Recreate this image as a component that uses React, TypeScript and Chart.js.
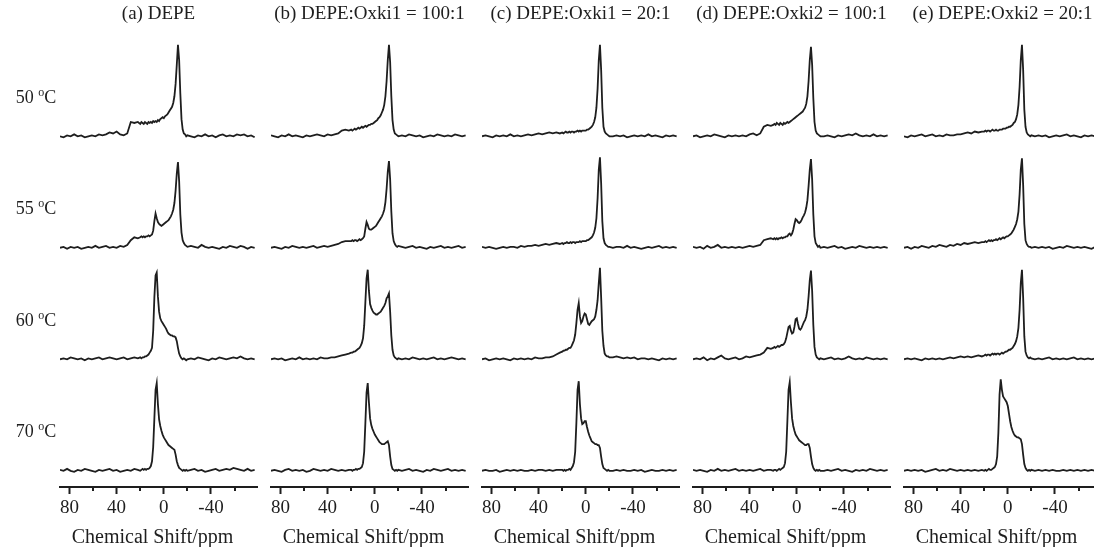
import { useEffect, useRef } from "react";
import { Chart, registerables } from "chart.js";

Chart.register(...registerables);

// Chemical shift grid (ppm) shared by every spectrum
const PPM = [
  88, 85, 82, 79, 76, 73, 70, 67, 64, 61, 58, 55, 52, 49, 46, 43, 40, 37, 34, 31, 28, 25, 22,
  20, 19, 18, 17, 16, 15, 14, 13, 12, 11,
  10, 9, 8, 7, 6, 5, 4, 3, 2, 1,
  0, -1, -2, -3, -4, -5, -6, -7, -8, -9,
  -10, -11, -12, -13, -14, -15, -16, -17, -18, -19, -20,
  -23, -26, -29, -32, -35, -38, -41, -44, -47, -50, -53, -56, -59, -62, -65, -68, -71, -74, -77,
];

const PANEL_TITLES = [
  "(a) DEPE",
  "(b) DEPE:Oxki1 = 100:1",
  "(c) DEPE:Oxki1 = 20:1",
  "(d) DEPE:Oxki2 = 100:1",
  "(e) DEPE:Oxki2 = 20:1",
];
const TEMPERATURES = ["50", "55", "60", "70"];
const AXIS_TITLE = "Chemical Shift/ppm";
const MAJOR_TICKS = [80, 40, 0, -40];
const MINOR_TICKS = [60, 20, -20, -60];

// (a) DEPE
const A50 = [
  0.00, -0.01, 0.01, 0.00, 0.02, 0.00, 0.01, -0.01, 0.00, 0.01, 0.00, 0.02, 0.01, 0.02, 0.04, 0.03, 0.05, 0.02, 0.01, 0.03, 0.15, 0.14, 0.15,
  0.13, 0.15, 0.14, 0.13, 0.15, 0.14, 0.13, 0.15, 0.14, 0.15,
  0.14, 0.16, 0.15, 0.16, 0.15, 0.17, 0.16, 0.18, 0.19, 0.20,
  0.19, 0.21, 0.22, 0.23, 0.25, 0.27, 0.29, 0.31, 0.35, 0.42,
  0.55, 0.75, 0.96, 0.80, 0.45, 0.18, 0.07, 0.03, 0.02, 0.00, 0.01,
  0.00, -0.01, 0.01, 0.00, 0.02, 0.00, 0.01, -0.01, 0.01, 0.02, 0.00, 0.01, 0.00, 0.02, 0.01, 0.02, 0.00, 0.01, -0.01,
];
const A55 = [
  0.00, 0.01, -0.01, 0.01, 0.00, 0.01, -0.01, 0.00, 0.01, 0.00, 0.02, 0.00, 0.01, 0.02, 0.00, 0.01, 0.00, 0.02, 0.01, 0.03, 0.08, 0.11, 0.10,
  0.11, 0.12, 0.11, 0.12, 0.11, 0.12, 0.12, 0.13, 0.12, 0.13,
  0.14, 0.18, 0.28, 0.36, 0.31, 0.27, 0.25, 0.24, 0.23, 0.24,
  0.25, 0.26, 0.27, 0.28, 0.29, 0.31, 0.33, 0.36, 0.40, 0.47,
  0.60, 0.78, 0.90, 0.70, 0.35, 0.16, 0.08, 0.05, 0.03, 0.02, 0.01,
  0.02, 0.01, 0.00, 0.03, 0.01, 0.00, 0.01, 0.00, -0.01, 0.01, 0.00, 0.02, 0.01, 0.00, 0.02, 0.01, -0.01, 0.01, 0.00,
];
const A60 = [
  0.00, 0.01, 0.00, 0.02, 0.01, 0.00, 0.01, -0.01, 0.01, 0.00, 0.01, 0.02, 0.00, 0.01, 0.02, 0.01, 0.00, 0.01, 0.02, 0.00, 0.01, 0.02, 0.01,
  0.02, 0.01, 0.02, 0.02, 0.03, 0.03, 0.04, 0.05, 0.07, 0.09,
  0.12, 0.30, 0.65, 0.88, 0.91, 0.66, 0.50, 0.43, 0.40, 0.38,
  0.36, 0.34, 0.32, 0.29, 0.27, 0.26, 0.25, 0.25, 0.24, 0.24,
  0.23, 0.19, 0.12, 0.06, 0.03, 0.01, 0.00, 0.01, 0.00, -0.01, 0.00,
  0.01, 0.00, 0.02, 0.01, 0.00, -0.01, 0.01, 0.00, 0.02, 0.01, 0.00, 0.01, 0.02, 0.01, 0.03, 0.01, 0.00, 0.01, 0.00,
];
const A70 = [
  0.01, 0.00, 0.02, 0.00, -0.01, 0.01, 0.00, 0.02, 0.01, 0.00, -0.01, 0.01, 0.00, 0.01, 0.02, 0.00, 0.01, -0.01, 0.00, 0.01, 0.00, 0.02, 0.01,
  0.00, 0.01, 0.02, 0.01, 0.02, 0.01, 0.02, 0.02, 0.03, 0.05,
  0.10, 0.25, 0.55, 0.85, 0.92, 0.70, 0.54, 0.47, 0.42, 0.38,
  0.35, 0.33, 0.31, 0.29, 0.27, 0.26, 0.25, 0.24, 0.23, 0.22,
  0.17, 0.10, 0.06, 0.03, 0.02, 0.01, 0.00, 0.01, 0.00, 0.01, 0.00,
  0.01, 0.02, 0.00, 0.01, -0.01, 0.00, 0.01, 0.02, 0.00, 0.01, 0.02, 0.01, 0.03, 0.02, 0.01, 0.00, 0.02, 0.00, 0.01,
];

// (b) DEPE:Oxki1 = 100:1
const B50 = [
  0.01, 0.00, -0.01, 0.01, 0.00, 0.02, 0.00, 0.01, 0.00, -0.01, 0.01, 0.00, 0.01, 0.02, 0.01, 0.00, 0.02, 0.01, 0.02, 0.03, 0.06, 0.07, 0.06,
  0.07, 0.06, 0.07, 0.08, 0.07, 0.08, 0.09, 0.08, 0.09, 0.10,
  0.09, 0.10, 0.11, 0.10, 0.11, 0.12, 0.12, 0.13, 0.13, 0.14,
  0.15, 0.16, 0.17, 0.19, 0.20, 0.22, 0.25, 0.28, 0.33, 0.42,
  0.58, 0.80, 0.96, 0.78, 0.42, 0.17, 0.07, 0.03, 0.02, 0.01, 0.00,
  0.01, 0.00, 0.02, 0.01, 0.00, 0.01, -0.01, 0.00, 0.01, 0.00, 0.02, 0.01, 0.00, 0.01, 0.00, 0.02, 0.01, 0.00, 0.01,
];
const B55 = [
  0.00, 0.01, 0.00, -0.01, 0.01, 0.00, 0.02, 0.01, 0.00, 0.01, 0.00, 0.01, 0.02, 0.00, 0.01, 0.02, 0.01, 0.02, 0.03, 0.04, 0.06, 0.07, 0.07,
  0.07, 0.08, 0.07, 0.08, 0.08, 0.07, 0.08, 0.09, 0.08, 0.09,
  0.10, 0.12, 0.20, 0.27, 0.24, 0.20, 0.19, 0.19, 0.20, 0.21,
  0.22, 0.23, 0.25, 0.27, 0.29, 0.31, 0.33, 0.36, 0.40, 0.48,
  0.62, 0.80, 0.91, 0.72, 0.38, 0.15, 0.07, 0.04, 0.02, 0.01, 0.02,
  0.01, 0.00, 0.01, 0.02, 0.00, 0.01, 0.00, -0.01, 0.01, 0.00, 0.01, 0.02, 0.00, 0.01, 0.00, 0.01, 0.02, 0.00, 0.01,
];
const B60 = [
  0.00, 0.01, 0.00, 0.01, -0.01, 0.00, 0.01, 0.00, 0.02, 0.00, 0.01, 0.00, 0.01, 0.00, 0.02, 0.01, 0.01, 0.02, 0.02, 0.03, 0.04, 0.05, 0.06,
  0.07, 0.07, 0.08, 0.08, 0.09, 0.10, 0.11, 0.12, 0.14, 0.17,
  0.22, 0.35, 0.60, 0.85, 0.94, 0.72, 0.58, 0.54, 0.51, 0.49,
  0.48, 0.47, 0.47, 0.48, 0.49, 0.50, 0.52, 0.54, 0.56, 0.59,
  0.64, 0.66, 0.69, 0.50, 0.25, 0.10, 0.04, 0.02, 0.01, 0.00, 0.01,
  0.00, 0.01, 0.00, 0.02, 0.01, 0.00, 0.01, 0.00, 0.01, 0.02, 0.00, 0.01, 0.00, 0.01, 0.02, 0.01, 0.00, 0.01, 0.00,
];
const B70 = [
  0.00, 0.01, 0.00, -0.01, 0.01, 0.02, 0.00, 0.01, 0.00, 0.01, -0.01, 0.00, 0.02, 0.01, 0.00, 0.01, 0.00, 0.02, 0.01, 0.00, 0.01, 0.00, 0.01,
  0.01, 0.00, 0.01, 0.01, 0.02, 0.01, 0.02, 0.02, 0.03, 0.04,
  0.08, 0.20, 0.50, 0.82, 0.92, 0.72, 0.55, 0.48, 0.44, 0.41,
  0.38, 0.36, 0.34, 0.32, 0.30, 0.29, 0.28, 0.28, 0.28, 0.29,
  0.30, 0.31, 0.27, 0.15, 0.06, 0.02, 0.01, 0.00, 0.01, 0.00, 0.01,
  0.00, 0.01, 0.02, 0.00, 0.01, 0.00, -0.01, 0.01, 0.00, 0.02, 0.01, 0.00, 0.01, 0.02, 0.00, 0.01, 0.00, 0.01, 0.00,
];

// (c) DEPE:Oxki1 = 20:1
const C50 = [
  0.00, 0.01, 0.00, -0.01, 0.01, 0.00, 0.01, 0.00, 0.02, 0.00, 0.01, 0.00, 0.01, 0.02, 0.01, 0.02, 0.03, 0.02, 0.03, 0.04, 0.03, 0.04, 0.03,
  0.04, 0.03, 0.04, 0.05, 0.04, 0.04, 0.05, 0.04, 0.05, 0.05,
  0.04, 0.05, 0.05, 0.06, 0.05, 0.06, 0.05, 0.06, 0.06, 0.06,
  0.06, 0.07, 0.07, 0.08, 0.09, 0.10, 0.12, 0.15, 0.20, 0.30,
  0.50, 0.80, 0.96, 0.70, 0.30, 0.10, 0.05, 0.03, 0.02, 0.01, 0.00,
  0.00, 0.01, 0.00, 0.01, -0.01, 0.00, 0.01, 0.00, 0.01, 0.00, 0.02, 0.00, 0.01, 0.00, -0.01, 0.01, 0.00, 0.01, 0.00,
];
const C55 = [
  0.01, 0.00, 0.01, 0.00, -0.01, 0.00, 0.01, 0.00, 0.01, 0.01, 0.00, 0.02, 0.01, 0.02, 0.02, 0.03, 0.02, 0.03, 0.04, 0.03, 0.04, 0.05, 0.04,
  0.05, 0.04, 0.05, 0.05, 0.06, 0.05, 0.05, 0.06, 0.05, 0.06,
  0.06, 0.05, 0.06, 0.06, 0.06, 0.07, 0.06, 0.07, 0.07, 0.07,
  0.07, 0.08, 0.08, 0.09, 0.10, 0.11, 0.13, 0.16, 0.21, 0.31,
  0.52, 0.82, 0.95, 0.68, 0.28, 0.10, 0.05, 0.03, 0.02, 0.01, 0.01,
  0.00, 0.01, 0.01, 0.00, 0.02, 0.00, 0.01, 0.00, -0.01, 0.00, 0.01, 0.00, 0.01, 0.02, 0.00, 0.01, 0.00, 0.01, 0.00,
];
const C60 = [
  0.00, 0.01, -0.01, 0.00, 0.01, 0.00, 0.01, 0.00, -0.01, 0.01, 0.00, 0.01, 0.00, 0.01, 0.00, 0.02, 0.01, 0.01, 0.02, 0.02, 0.03, 0.05, 0.07,
  0.08, 0.09, 0.09, 0.10, 0.10, 0.11, 0.12, 0.12, 0.14, 0.17,
  0.20, 0.26, 0.38, 0.52, 0.59, 0.45, 0.38, 0.40, 0.45, 0.48,
  0.47, 0.42, 0.37, 0.36, 0.38, 0.40, 0.41, 0.42, 0.45, 0.52,
  0.62, 0.80, 0.96, 0.65, 0.30, 0.14, 0.06, 0.04, 0.03, 0.03, 0.02,
  0.02, 0.03, 0.02, 0.01, 0.02, 0.01, 0.02, 0.00, 0.01, 0.01, 0.00, 0.01, 0.00, -0.01, 0.01, 0.00, 0.01, 0.00, 0.01,
];
const C70 = [
  0.00, 0.01, 0.00, 0.00, 0.01, -0.01, 0.00, 0.01, 0.00, 0.01, 0.00, 0.01, 0.00, 0.00, 0.01, 0.00, 0.01, 0.01, 0.00, 0.01, 0.00, 0.01, 0.01,
  0.01, 0.00, 0.01, 0.00, 0.01, 0.01, 0.02, 0.01, 0.03, 0.05,
  0.09, 0.20, 0.50, 0.85, 0.94, 0.70, 0.55, 0.49, 0.50, 0.52,
  0.52, 0.46, 0.41, 0.37, 0.34, 0.31, 0.30, 0.29, 0.28, 0.28,
  0.27, 0.27, 0.24, 0.15, 0.07, 0.03, 0.02, 0.01, 0.00, 0.01, 0.00,
  0.00, 0.01, 0.00, 0.01, 0.00, 0.00, 0.01, 0.00, 0.01, -0.01, 0.00, 0.01, 0.00, 0.00, 0.01, 0.00, 0.01, 0.00, 0.01,
];

// (d) DEPE:Oxki2 = 100:1
const D50 = [
  0.00, 0.01, -0.01, 0.00, 0.01, 0.00, 0.02, 0.01, 0.00, -0.01, 0.01, 0.00, 0.01, 0.00, 0.01, 0.00, 0.02, 0.03, 0.01, 0.03, 0.10, 0.12, 0.11,
  0.12, 0.13, 0.12, 0.14, 0.13, 0.12, 0.14, 0.13, 0.12, 0.14,
  0.13, 0.14, 0.15, 0.14, 0.15, 0.16, 0.17, 0.18, 0.19, 0.20,
  0.21, 0.22, 0.23, 0.24, 0.25, 0.26, 0.28, 0.30, 0.34, 0.42,
  0.58, 0.80, 0.94, 0.75, 0.40, 0.15, 0.06, 0.03, 0.02, 0.01, 0.00,
  0.00, 0.01, 0.00, -0.01, 0.01, 0.00, 0.01, 0.02, 0.01, 0.03, 0.01, 0.00, 0.01, 0.00, 0.02, 0.00, 0.01, 0.00, 0.01,
];
const D55 = [
  0.01, 0.00, 0.01, -0.01, 0.02, 0.00, 0.01, 0.03, 0.00, 0.01, 0.00, 0.01, 0.00, 0.01, 0.00, 0.01, 0.02, 0.01, 0.02, 0.03, 0.08, 0.09, 0.10,
  0.09, 0.10, 0.09, 0.10, 0.09, 0.10, 0.10, 0.11, 0.10, 0.11,
  0.11, 0.12, 0.12, 0.14, 0.15, 0.13, 0.15, 0.19, 0.25, 0.30,
  0.29, 0.27, 0.26, 0.27, 0.29, 0.32, 0.34, 0.37, 0.42, 0.50,
  0.65, 0.82, 0.93, 0.72, 0.35, 0.12, 0.05, 0.03, 0.01, 0.02, 0.00,
  0.01, 0.00, 0.01, 0.02, 0.00, 0.01, -0.01, 0.00, 0.01, 0.00, 0.02, 0.01, 0.00, 0.01, 0.00, 0.01, 0.00, 0.01, 0.00,
];
const D60 = [
  0.00, 0.01, 0.00, 0.02, -0.01, 0.01, 0.00, 0.02, 0.04, 0.01, 0.00, 0.01, 0.02, 0.00, 0.01, 0.03, 0.02, 0.03, 0.04, 0.05, 0.07, 0.12, 0.11,
  0.12, 0.13, 0.12, 0.13, 0.14, 0.13, 0.14, 0.15, 0.15, 0.16,
  0.18, 0.22, 0.28, 0.34, 0.35, 0.30, 0.27, 0.28, 0.34, 0.42,
  0.43, 0.37, 0.32, 0.31, 0.33, 0.36, 0.39, 0.41, 0.45, 0.52,
  0.66, 0.83, 0.93, 0.72, 0.36, 0.13, 0.05, 0.02, 0.01, 0.00, 0.01,
  0.00, 0.01, 0.02, 0.00, 0.01, 0.00, 0.01, 0.03, 0.01, 0.00, 0.01, 0.00, 0.02, 0.01, 0.00, 0.01, 0.00, 0.01, 0.00,
];
const D70 = [
  0.01, 0.00, 0.01, 0.00, -0.01, 0.01, 0.00, 0.02, 0.00, 0.01, 0.00, 0.01, 0.02, 0.00, 0.01, 0.00, 0.01, 0.00, 0.01, 0.02, 0.00, 0.01, 0.01,
  0.00, 0.01, 0.01, 0.00, 0.01, 0.02, 0.01, 0.02, 0.03, 0.04,
  0.08, 0.20, 0.52, 0.85, 0.93, 0.72, 0.55, 0.47, 0.42, 0.38,
  0.36, 0.34, 0.32, 0.31, 0.30, 0.29, 0.28, 0.27, 0.27, 0.28,
  0.28, 0.24, 0.15, 0.07, 0.03, 0.01, 0.00, 0.01, 0.00, 0.01, 0.00,
  0.00, 0.01, 0.00, 0.01, 0.02, 0.00, 0.01, 0.00, -0.01, 0.01, 0.00, 0.01, 0.00, 0.02, 0.01, 0.00, 0.01, 0.00, 0.01,
];

// (e) DEPE:Oxki2 = 20:1
const E50 = [
  0.00, -0.01, 0.01, 0.00, 0.01, 0.02, 0.00, 0.01, 0.02, 0.00, 0.01, 0.00, 0.02, 0.01, 0.01, 0.02, 0.02, 0.03, 0.04, 0.03, 0.05, 0.04, 0.05,
  0.05, 0.06, 0.05, 0.06, 0.06, 0.05, 0.06, 0.07, 0.06, 0.06,
  0.07, 0.06, 0.06, 0.07, 0.07, 0.07, 0.08, 0.08, 0.08, 0.09,
  0.09, 0.10, 0.10, 0.11, 0.12, 0.14, 0.15, 0.18, 0.23, 0.33,
  0.52, 0.80, 0.96, 0.70, 0.28, 0.10, 0.04, 0.02, 0.01, 0.00, 0.01,
  0.00, 0.01, 0.00, 0.01, -0.01, 0.00, 0.01, 0.00, 0.01, 0.02, 0.00, 0.01, 0.00, -0.01, 0.01, 0.00, 0.01, 0.00, 0.01,
];
const E55 = [
  0.00, 0.01, -0.01, 0.01, 0.00, 0.02, 0.01, 0.00, 0.02, 0.01, 0.03, 0.02, 0.01, 0.03, 0.02, 0.04, 0.03, 0.05, 0.04, 0.05, 0.06, 0.05, 0.06,
  0.06, 0.07, 0.06, 0.07, 0.08, 0.07, 0.08, 0.07, 0.08, 0.08,
  0.09, 0.08, 0.09, 0.10, 0.09, 0.10, 0.11, 0.10, 0.11, 0.12,
  0.12, 0.13, 0.14, 0.15, 0.17, 0.19, 0.22, 0.25, 0.30, 0.38,
  0.56, 0.82, 0.94, 0.66, 0.25, 0.08, 0.04, 0.02, 0.01, 0.01, 0.00,
  0.01, 0.00, 0.01, 0.00, 0.01, -0.01, 0.00, 0.01, 0.00, 0.02, 0.01, 0.00, 0.01, 0.00, 0.01, 0.00, -0.01, 0.01, 0.00,
];
const E60 = [
  0.00, 0.01, 0.00, 0.01, 0.00, -0.01, 0.01, 0.00, 0.01, 0.00, 0.01, 0.00, 0.01, 0.02, 0.01, 0.02, 0.03, 0.02, 0.03, 0.02, 0.03, 0.04, 0.03,
  0.04, 0.05, 0.04, 0.05, 0.05, 0.04, 0.05, 0.06, 0.05, 0.06,
  0.05, 0.06, 0.06, 0.05, 0.06, 0.07, 0.06, 0.07, 0.08, 0.08,
  0.09, 0.10, 0.10, 0.11, 0.12, 0.14, 0.16, 0.19, 0.24, 0.33,
  0.52, 0.80, 0.94, 0.65, 0.24, 0.08, 0.04, 0.02, 0.01, 0.02, 0.01,
  0.00, 0.01, 0.00, 0.01, 0.02, 0.00, 0.01, 0.00, 0.01, 0.00, 0.01, 0.02, 0.00, 0.01, 0.00, 0.01, 0.00, 0.01, 0.00,
];
const E70 = [
  0.00, 0.01, 0.00, 0.01, 0.00, 0.01, -0.01, 0.00, 0.01, 0.02, 0.00, 0.01, 0.00, 0.02, 0.01, 0.00, 0.01, 0.00, 0.01, 0.00, 0.01, 0.00, 0.01,
  0.00, 0.01, 0.00, 0.01, 0.02, 0.01, 0.01, 0.02, 0.03, 0.04,
  0.07, 0.15, 0.40, 0.80, 0.96, 0.85, 0.78, 0.76, 0.74, 0.72,
  0.68, 0.60, 0.52, 0.46, 0.42, 0.39, 0.37, 0.36, 0.35, 0.35,
  0.34, 0.33, 0.28, 0.17, 0.07, 0.03, 0.01, 0.00, 0.01, 0.00, 0.01,
  0.00, 0.01, 0.00, 0.01, 0.00, 0.01, 0.00, 0.00, 0.01, 0.00, 0.01, 0.00, 0.01, 0.00, 0.01, 0.00, 0.01, 0.00, 0.01,
];

const PANELS = [
  [A50, A55, A60, A70],
  [B50, B55, B60, B70],
  [C50, C55, C60, C70],
  [D50, D55, D60, D70],
  [E50, E55, E60, E70],
];

const PANEL_IDS = ["xa", "xb", "xc", "xd", "xe"];
const ROW_IDS = ["y50", "y55", "y60", "y70"];
const FONT = '"Liberation Serif", "Times New Roman", serif';
const INK = "#1e1e1e";

const labelPlugin = {
  id: "panelLabels",
  afterDraw(chart: any) {
    const ctx = chart.ctx;
    ctx.save();
    ctx.fillStyle = INK;
    ctx.strokeStyle = INK;
    ctx.textAlign = "center";
    ctx.textBaseline = "middle";
    PANEL_IDS.forEach((id, i) => {
      const s = chart.scales[id];
      const cx = (s.left + s.right) / 2;
      // column title
      ctx.font = `19px ${FONT}`;
      ctx.fillText(PANEL_TITLES[i], cx, 14);
      // axis title, set slightly left of the axis centre as in the original
      ctx.font = `20px ${FONT}`;
      ctx.fillText(AXIS_TITLE, cx - 6, 538);
    });
    // minor ticks
    ctx.lineWidth = 2;
    PANEL_IDS.forEach((id) => {
      const s = chart.scales[id];
      MINOR_TICKS.forEach((v) => {
        const px = Math.round(s.getPixelForValue(v));
        ctx.beginPath();
        ctx.moveTo(px, s.top);
        ctx.lineTo(px, s.top + 4);
        ctx.stroke();
      });
    });
    // row labels "50 oC" with superscript o
    ctx.textAlign = "left";
    ctx.textBaseline = "alphabetic";
    ROW_IDS.forEach((id, i) => {
      const s = chart.scales[id];
      const cy = (s.top + s.bottom) / 2;
      const base = cy + 6;
      ctx.font = `18px ${FONT}`;
      const t1 = TEMPERATURES[i] + " ";
      const w1 = ctx.measureText(t1).width;
      const wc = ctx.measureText("C").width;
      ctx.font = `12px ${FONT}`;
      const wo = ctx.measureText("o").width;
      const total = w1 + wo + wc;
      const x0 = 36 - total / 2;
      ctx.font = `18px ${FONT}`;
      ctx.fillText(t1, x0, base);
      ctx.font = `12px ${FONT}`;
      ctx.fillText("o", x0 + w1, base - 7);
      ctx.font = `18px ${FONT}`;
      ctx.fillText("C", x0 + w1 + wo, base);
    });
    ctx.restore();
  },
};

export default function App() {
  const ref = useRef<HTMLCanvasElement>(null);

  useEffect(() => {
    const canvas = ref.current;
    if (!canvas) return;

    const datasets: any[] = [];
    PANELS.forEach((rows, p) => {
      rows.forEach((vals, r) => {
        datasets.push({
          data: vals.map((v, i) => ({ x: PPM[i], y: v })),
          xAxisID: PANEL_IDS[p],
          yAxisID: ROW_IDS[r],
          borderColor: INK,
          borderWidth: 1.8,
          pointRadius: 0,
          fill: false,
          tension: 0,
        });
      });
    });

    const scales: any = {};
    PANEL_IDS.forEach((id, p) => {
      if (p > 0) {
        scales["xgap" + p] = {
          type: "linear",
          axis: "x",
          position: "bottom",
          stack: "cols",
          stackWeight: 14,
          display: false,
        };
      }
      scales[id] = {
        type: "linear",
        axis: "x",
        position: "bottom",
        stack: "cols",
        stackWeight: 197,
        reverse: true,
        min: -79,
        max: 88,
        grid: {
          display: true,
          drawOnChartArea: false,
          drawTicks: true,
          tickLength: 7,
          tickWidth: 2,
          tickColor: (c: any) =>
            c.tick && MAJOR_TICKS.includes(c.tick.value) ? INK : "rgba(0,0,0,0)",
        },
        border: { display: true, color: INK, width: 2 },
        ticks: {
          stepSize: 20,
          includeBounds: false,
          autoSkip: false,
          maxRotation: 0,
          minRotation: 0,
          padding: 5,
          color: INK,
          font: { family: FONT, size: 19, lineHeight: 1 },
          callback: (v: any) => (MAJOR_TICKS.includes(Number(v)) ? String(v) : ""),
        },
        // space reserved for the axis title, which the plugin draws
        title: {
          display: true,
          text: " ",
          font: { family: FONT, size: 20, lineHeight: 0.8 },
          padding: { top: 8, bottom: 0 },
        },
      };
    });
    // left boxes are laid out in reverse order, so define the bottom row first
    [...ROW_IDS].reverse().forEach((id) => {
      scales[id] = {
        type: "linear",
        axis: "y",
        position: "left",
        stack: "rows",
        stackWeight: 1,
        min: -0.17,
        max: 1,
        display: false,
      };
    });

    const chart = new Chart(canvas, {
      type: "line",
      data: { datasets },
      options: {
        animation: false,
        responsive: false,
        events: [],
        layout: { padding: { left: 60, top: 41, right: 0, bottom: 0 } },
        plugins: { legend: { display: false }, tooltip: { enabled: false } },
        scales,
      },
      plugins: [labelPlugin],
    });
    return () => chart.destroy();
  }, []);

  return (
    <div
      style={{
        position: "fixed",
        left: 0,
        top: 0,
        width: 1094,
        height: 547,
        overflow: "hidden",
        background: "#fff",
      }}
    >
      <canvas ref={ref} width={1101} height={547} style={{ width: 1101, height: 547, display: "block" }} />
    </div>
  );
}
